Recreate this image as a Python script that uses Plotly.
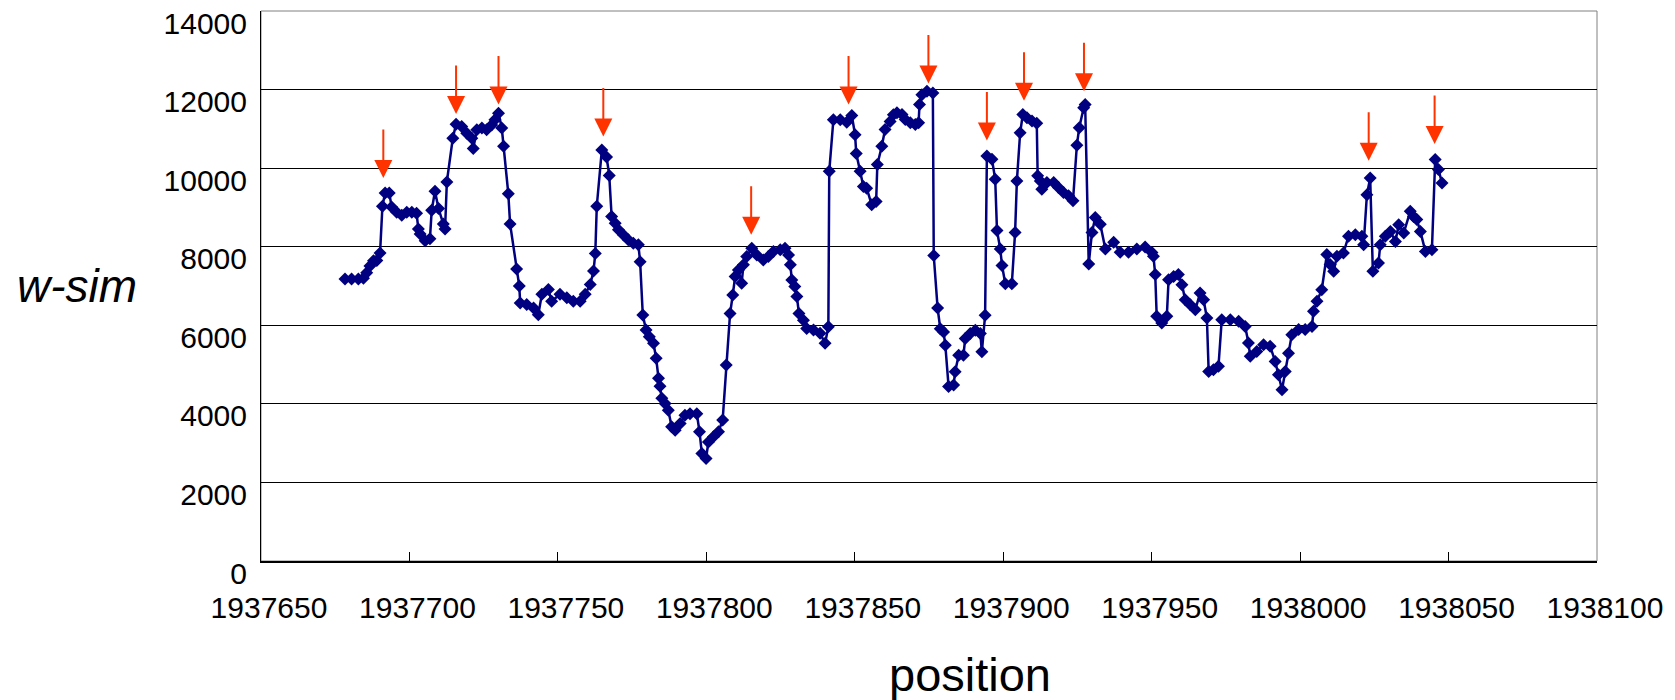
import plotly.graph_objects as go

# ---- data ----
positions = [
    1937678.3, 1937680.5, 1937682.8, 1937684.5, 1937685.6, 1937686.7, 1937687.9, 1937689.0,
    1937690.1, 1937690.9, 1937691.8, 1937693.2, 1937694.0, 1937695.7, 1937697.4, 1937699.1,
    1937700.8, 1937702.4, 1937703.0, 1937703.6, 1937705.3, 1937706.9, 1937707.5, 1937708.6,
    1937709.8, 1937711.4, 1937712.0, 1937712.6, 1937714.6, 1937715.7, 1937717.6, 1937719.3,
    1937721.0, 1937721.5, 1937722.7, 1937724.4, 1937726.0, 1937727.7, 1937728.8, 1937730.0,
    1937731.1, 1937731.7, 1937733.3, 1937733.9, 1937736.1, 1937737.0, 1937737.3, 1937739.5,
    1937741.8, 1937743.4, 1937744.6, 1937746.8, 1937747.9, 1937750.7, 1937753.0, 1937755.2,
    1937757.5, 1937759.2, 1937760.9, 1937762.0, 1937762.6, 1937763.1, 1937764.8, 1937766.4,
    1937767.3, 1937768.1, 1937769.3, 1937770.4, 1937772.1, 1937773.7, 1937775.4, 1937777.1,
    1937777.7, 1937778.6, 1937779.7, 1937780.8, 1937782.2, 1937783.1, 1937783.9, 1937784.4,
    1937785.0, 1937786.1, 1937787.2, 1937788.3, 1937789.5, 1937791.2, 1937792.8, 1937794.5,
    1937796.8, 1937797.7, 1937798.5, 1937799.9, 1937800.7, 1937802.4, 1937804.1, 1937805.5,
    1937806.7, 1937808.0, 1937808.9, 1937809.7, 1937810.8, 1937811.9, 1937812.5, 1937813.6,
    1937815.3, 1937817.0, 1937819.2, 1937820.9, 1937822.6, 1937824.9, 1937826.5, 1937827.7,
    1937828.3, 1937828.8, 1937829.8, 1937830.5, 1937831.2, 1937832.7, 1937833.8, 1937836.1,
    1937838.3, 1937840.0, 1937841.1, 1937841.4, 1937842.8, 1937845.1, 1937847.3, 1937849.0,
    1937850.1, 1937850.5, 1937851.8, 1937852.9, 1937854.0, 1937855.7, 1937857.2, 1937857.6,
    1937859.1, 1937860.2, 1937861.9, 1937863.0, 1937864.2, 1937865.9, 1937867.0, 1937868.7,
    1937870.4, 1937871.5, 1937871.8, 1937872.6, 1937874.3, 1937876.3, 1937876.6, 1937877.9,
    1937878.8, 1937879.9, 1937880.5, 1937881.6, 1937883.3, 1937883.8, 1937885.0, 1937886.6,
    1937887.2, 1937888.9, 1937890.6, 1937892.3, 1937892.8, 1937893.9, 1937894.5, 1937896.2,
    1937897.3, 1937897.9, 1937899.0, 1937899.6, 1937900.7, 1937902.9, 1937904.0, 1937904.6,
    1937905.7, 1937906.6, 1937908.0, 1937909.7, 1937911.3, 1937911.6, 1937912.5, 1937913.0,
    1937914.7, 1937917.0, 1937918.6, 1937920.3, 1937922.0, 1937923.5, 1937924.8, 1937925.6,
    1937927.1, 1937927.6, 1937928.8, 1937929.9, 1937931.0, 1937932.7, 1937934.4, 1937937.2,
    1937939.4, 1937942.2, 1937945.0, 1937947.8, 1937950.1, 1937950.6, 1937951.2, 1937951.7,
    1937953.4, 1937955.1, 1937955.7, 1937957.4, 1937959.0, 1937960.2, 1937961.3, 1937963.0,
    1937964.7, 1937966.3, 1937967.5, 1937968.6, 1937969.2, 1937970.8, 1937972.5, 1937973.6,
    1937976.5, 1937979.3, 1937981.5, 1937982.6, 1937983.2, 1937985.4, 1937987.7, 1937989.9,
    1937991.6, 1937992.7, 1937993.9, 1937995.0, 1937996.1, 1937997.2, 1937999.5, 1938001.7,
    1938004.0, 1938004.5, 1938005.7, 1938007.3, 1938009.0, 1938010.1, 1938011.3, 1938012.4,
    1938014.6, 1938016.3, 1938018.6, 1938020.8, 1938021.4, 1938022.5, 1938023.6, 1938024.5,
    1938026.4, 1938027.0, 1938028.7, 1938030.4, 1938032.1, 1938033.2, 1938034.9, 1938037.1,
    1938038.2, 1938039.3, 1938040.5, 1938042.2, 1938044.4, 1938045.5, 1938046.6, 1938047.8,
]

w_sim = [
    7180, 7180, 7180, 7200, 7340, 7510, 7640, 7650,
    7840, 9030, 9370, 9370, 9010, 8880, 8800, 8880,
    8880, 8850, 8450, 8325, 8150, 8200, 8930, 9410,
    8970, 8580, 8450, 9650, 10760, 11120, 11060, 10890,
    10760, 10500, 10975, 11020, 10975, 11100, 11230, 11400,
    11020, 10560, 9350, 8580, 7430, 7000, 6570, 6530,
    6440, 6270, 6790, 6910, 6610, 6790, 6700, 6610,
    6610, 6790, 7040, 7380, 7830, 9030, 10460, 10283,
    9815, 8770, 8600, 8430, 8300, 8175, 8090, 8050,
    7620, 6260, 5880, 5710, 5540, 5160, 4650, 4450,
    4140, 4010, 3840, 3420, 3330, 3500, 3710, 3750,
    3750, 3290, 2735, 2610, 3030, 3160, 3290, 3590,
    4990, 6300, 6770, 7240, 7410, 7070, 7540, 7750,
    7960, 7790, 7660, 7750, 7880, 7920, 7960, 7790,
    7540, 7150, 6985, 6730, 6300, 6130, 5920, 5880,
    5800, 5540, 5965, 9920, 11235, 11235, 11170, 11340,
    10850, 10370, 9920, 9535, 9490, 9070, 9150, 10090,
    10555, 10985, 11190, 11360, 11410, 11365, 11240, 11155,
    11110, 11155, 11620, 11870, 11960, 11915, 7775, 6440,
    5915, 5830, 5495, 4440, 4480, 4820, 5240, 5240,
    5665, 5790, 5875, 5790, 5325, 6255, 10310, 10225,
    9720, 8410, 7945, 7520, 7055, 7055, 8365, 9675,
    10900, 11365, 11280, 11200, 11140, 9805, 9675, 9465,
    9635, 9635, 9505, 9380, 9295, 9170, 10580, 11030,
    11535, 11620, 7560, 8365, 8745, 8575, 7945, 8115,
    7860, 7860, 7945, 7990, 7850, 7755, 7290, 6230,
    6060, 6230, 7160, 7245, 7290, 7035, 6650, 6525,
    6395, 6820, 6650, 6185, 4825, 4870, 4955, 6140,
    6140, 6100, 5970, 5550, 5210, 5335, 5505, 5465,
    5080, 4740, 4360, 4825, 5290, 5760, 5890, 5890,
    5970, 6355, 6610, 6905, 7800, 7545, 7375, 7755,
    7840, 8265, 8305, 8265, 8050, 9325, 9750, 7375,
    7585, 8050, 8265, 8390, 8135, 8560, 8350, 8900,
    8770, 8690, 8390, 7880, 7925, 10220, 9965, 9625,
]

# red arrows: tip position (x, y in data units)
arrow_pos = [1937691.2, 1937715.7, 1937730.0, 1937765.3, 1937815.1, 1937847.9,
             1937874.8, 1937894.5, 1937907.0, 1937927.2, 1938023.1, 1938045.3]
arrow_val = [9748, 11380, 11617, 10808, 8302, 11617,
             12152, 10706, 11718, 11956, 10189, 10614]

x_ticks = [1937650, 1937700, 1937750, 1937800, 1937850, 1937900,
           1937950, 1938000, 1938050, 1938100]
y_ticks = [0, 2000, 4000, 6000, 8000, 10000, 12000, 14000]

FONT = "Liberation Sans, Arial, sans-serif"
NAVY = "#000080"

fig = go.Figure()
fig.add_trace(go.Scatter(
    x=positions, y=w_sim, mode="lines+markers",
    line=dict(color=NAVY, width=2.5),
    marker=dict(symbol="diamond", size=10, color=NAVY),
    showlegend=False, hoverinfo="x+y",
))

annotations = []
for px, py in zip(arrow_pos, arrow_val):
    annotations.append(dict(
        x=px, y=py, xref="x", yref="y", text="", showarrow=True,
        ax=0, ay=-50, axref="pixel", ayref="pixel",
        arrowhead=2, arrowsize=1.8, arrowwidth=2, arrowcolor="#FF3300",
        standoff=0,
    ))

annotations.append(dict(
    text="position", xref="paper", yref="paper", x=0.5307, y=0,
    xanchor="center", yanchor="middle", yshift=-113, showarrow=False,
    font=dict(family=FONT, size=47, color="black"),
))
annotations.append(dict(
    text="<i>w-sim</i>", xref="paper", yref="paper", x=0, y=0.5,
    xanchor="center", yanchor="middle", xshift=-184, yshift=0, showarrow=False,
    font=dict(family=FONT, size=46, color="black"),
))

fig.update_layout(
    width=1675, height=700,
    margin=dict(l=261, r=78, t=11, b=139),
    paper_bgcolor="white", plot_bgcolor="white",
    font=dict(family=FONT, color="black"),
    annotations=annotations,
    shapes=[dict(type="rect", xref="paper", yref="paper", x0=0, y0=0, x1=1, y1=1,
                 line=dict(color="#808080", width=1), layer="below")],
)

fig.update_xaxes(
    range=[1937650, 1938100], tickvals=x_ticks, tickformat="d",
    ticks="inside", ticklen=9, tickcolor="black", tickwidth=1,
    showline=True, linecolor="black", linewidth=2,
    showgrid=False, zeroline=False, automargin=False,
    tickfont=dict(family=FONT, size=30, color="black"),
    ticklabelshift=8, ticklabelstandoff=19, ticklabeloverflow="allow",
)
fig.update_yaxes(
    range=[0, 14000], tickvals=y_ticks, tickformat="d",
    ticks="", showline=True, linecolor="black", linewidth=1,
    showgrid=True, gridcolor="black", gridwidth=1, zeroline=False, automargin=False,
    tickfont=dict(family=FONT, size=30, color="black"),
    ticklabelshift=12, ticklabelstandoff=7, ticklabeloverflow="allow",
)

fig.write_html(
    "out.html",
    config={"displayModeBar": False},
    post_script="document.body.style.margin='0';document.body.style.overflow='hidden';",
)
